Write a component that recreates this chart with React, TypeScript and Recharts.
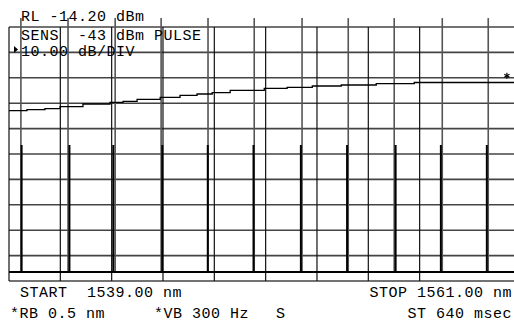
import React from 'react';
import { ComposedChart, Line, XAxis, YAxis, CartesianGrid, ReferenceLine, Scatter } from 'recharts';

// ---- axis / graticule ----
const START_NM = 1539;
const STOP_NM = 1561;
const REF_LEVEL_DBM = -14.2;
const BOTTOM_DBM = -114.2;
const xTicks = [1539, 1541.2, 1543.4, 1545.6, 1547.8, 1550, 1552.2, 1554.4, 1556.6, 1558.8, 1561];
const yTicks = [-14.2, -24.2, -34.2, -44.2, -54.2, -64.2, -74.2, -84.2, -94.2, -104.2, -114.2];

// ---- channel spectrum (pulses) ----
const channelPeaksNm = [1539.54, 1541.59, 1543.47, 1545.57, 1547.52, 1549.48, 1551.51, 1553.49, 1555.57, 1557.51, 1559.48];
const channelPeakDbm = [-60.7, -60.7, -60.7, -60.7, -60.7, -60.7, -60.7, -60.7, -60.7, -60.7, -60.7];
const noiseFloorDbm = -110.7;

// ---- channel markers ----
const channelMarkersNm = [1539.51, 1541.53, 1543.55, 1545.52, 1547.53, 1549.51, 1551.56, 1553.54, 1555.51, 1557.57, 1559.54];
const markerTopDbm = -10.7;

// ---- sloped trace ----
const slopeTraceNm = [1539.0, 1539.77, 1540.54, 1541.19, 1542.17, 1543.33, 1543.89, 1544.49, 1545.48, 1546.33, 1547.06, 1547.71, 1548.48, 1549.94, 1550.92, 1552.0, 1553.24, 1554.74, 1556.37, 1561.0];
const slopeTraceDbm = [-47.15, -46.76, -46.37, -45.58, -44.52, -43.85, -43.46, -42.67, -41.88, -41.09, -40.58, -40.07, -39.12, -38.33, -37.94, -37.43, -37.03, -36.52, -36.05, -36.05];

// ---- trace marker ----
const markerNm = [1560.34];
const markerDbm = [-33.4];

// ---- annotation texts ----
const headerLines = ['RL -14.20 dBm', 'SENS  -43 dBm PULSE', '10.00 dB/DIV'];
const startLabel = 'START';
const startValue = '1539.00 nm';
const stopLabel = 'STOP 1561.00 nm';
const rbLabel = '*RB 0.5 nm';
const vbLabel = '*VB 300 Hz';
const sLabel = 'S';
const stLabel = 'ST 640 msec';

const spectrumData: { nm: number; dbm: number }[] = [{ nm: START_NM, dbm: noiseFloorDbm }];
channelPeaksNm.forEach((nm, i) => {
  spectrumData.push({ nm, dbm: noiseFloorDbm });
  spectrumData.push({ nm, dbm: channelPeakDbm[i] });
  spectrumData.push({ nm, dbm: noiseFloorDbm });
});
spectrumData.push({ nm: STOP_NM, dbm: noiseFloorDbm });

const slopeData = slopeTraceNm.map((nm, i) => ({ nm, dbm: slopeTraceDbm[i] }));
const markerData = markerNm.map((nm, i) => ({ nm, dbm: markerDbm[i] }));

const FONT = '"Liberation Mono", "DejaVu Sans Mono", monospace';

const AsteriskShape = (props: any) => {
  const { cx, cy } = props;
  if (cx == null || cy == null) return null;
  return (
    <g stroke="#000" strokeWidth={1.2}>
      <line x1={cx} y1={cy - 3} x2={cx} y2={cy + 3} />
      <line x1={cx - 2.6} y1={cy - 1.5} x2={cx + 2.6} y2={cy + 1.5} />
      <line x1={cx - 2.6} y1={cy + 1.5} x2={cx + 2.6} y2={cy - 1.5} />
    </g>
  );
};

const T = ({ x, y, anchor, children }: { x: number; y: number; anchor?: 'start' | 'end'; children: string }) => (
  <text x={x} y={y} textAnchor={anchor || 'start'} xmlSpace="preserve" style={{ whiteSpace: 'pre' }}>
    {children}
  </text>
);

export default function App() {
  return (
    <div style={{ position: 'absolute', left: 0, top: 0, width: 514, height: 322, overflow: 'hidden', background: '#fff' }}>
      <ComposedChart width={524} height={322} margin={{ top: 27, right: 1.7, bottom: 41, left: 9 }}>
        <XAxis dataKey="nm" type="number" domain={[START_NM, STOP_NM]} ticks={xTicks} hide allowDataOverflow />
        <YAxis dataKey="dbm" type="number" domain={[BOTTOM_DBM, REF_LEVEL_DBM]} ticks={yTicks} hide allowDataOverflow />
        <CartesianGrid vertical={false} stroke="#444" strokeWidth={1.6} />
        <CartesianGrid horizontal={false} stroke="#111" strokeWidth={1.2} />
        {channelMarkersNm.map((nm) => (
          <ReferenceLine
            key={'m' + nm}
            segment={[{ x: nm, y: noiseFloorDbm }, { x: nm, y: markerTopDbm }]}
            stroke="#555"
            strokeWidth={1.6}
            ifOverflow="visible"
          />
        ))}
        <Line data={spectrumData} dataKey="dbm" type="linear" stroke="#000" strokeWidth={2} dot={false} isAnimationActive={false} />
        <Line data={slopeData} dataKey="dbm" type="stepAfter" stroke="#000" strokeWidth={1.3} dot={false} isAnimationActive={false} />
        <Scatter data={markerData} dataKey="dbm" shape={AsteriskShape} isAnimationActive={false} />
      </ComposedChart>
      <svg width={514} height={322} style={{ position: 'absolute', left: 0, top: 0, pointerEvents: 'none' }}>
        <g fontFamily={FONT} fontSize={15} letterSpacing={0.5} fill="#000">
          <T x={21} y={21}>{headerLines[0]}</T>
          <T x={21} y={40}>{headerLines[1]}</T>
          <T x={21} y={56}>{headerLines[2]}</T>
          <T x={20} y={297}>{startLabel}</T>
          <T x={87} y={297}>{startValue}</T>
          <T x={512} y={297} anchor="end">{stopLabel}</T>
          <T x={10} y={318}>{rbLabel}</T>
          <T x={154} y={318}>{vbLabel}</T>
          <T x={276} y={318}>{sLabel}</T>
          <T x={512} y={318} anchor="end">{stLabel}</T>
        </g>
        <polygon points="14,46 18,49.5 14,53" fill="#000" />
      </svg>
    </div>
  );
}
